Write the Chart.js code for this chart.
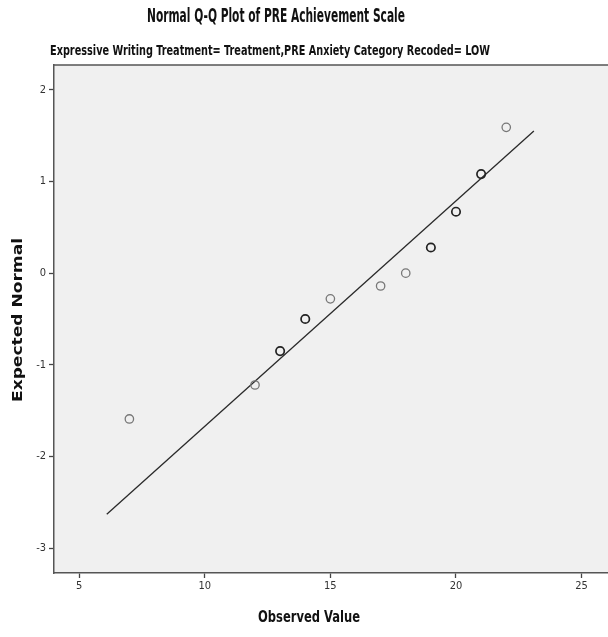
<!DOCTYPE html>
<html>
<head>
<meta charset="utf-8">
<script src="https://cdn.jsdelivr.net/npm/chart.js@4/dist/chart.umd.min.js"></script>
<style>
  html, body { margin: 0; padding: 0; background: #ffffff; }
  #wrap { width: 608px; height: 637px; position: relative; }
</style>
</head>
<body>
<div id="wrap"><canvas id="c" width="608" height="637"></canvas></div>
<script>
// ---- data ----
const observedValues = [7, 12, 13, 14, 15, 17, 18, 19, 20, 21, 22];
const expectedNormal = [-1.59, -1.22, -0.85, -0.50, -0.28, -0.14, 0.00, 0.28, 0.67, 1.08, 1.59];
const caseCounts     = [1, 1, 2, 2, 1, 1, 1, 2, 2, 2, 1];
const lineX = [6.1, 23.1];
const lineY = [-2.63, 1.55];
const xTicks = [5, 10, 15, 20, 25];
const yTicks = [-3, -2, -1, 0, 1, 2];
const titleText = 'Normal Q-Q Plot of PRE Achievement Scale';
const subtitleText = 'Expressive Writing Treatment= Treatment,PRE Anxiety Category Recoded= LOW';
const xTitle = 'Observed Value';
const yTitle = 'Expected Normal';

const narrow = '"Liberation Sans Narrow", "DejaVu Sans Condensed", "Open Sans", sans-serif';

const pointData = observedValues.map((x, i) => ({ x: x, y: expectedNormal[i] }));
const linePoints = lineX.map((x, i) => ({ x: x, y: lineY[i] }));

// draw text centred at (cx, cy), squeezed horizontally to a target width
function fitText(ctx, text, font, cx, cy, targetW, rot) {
  ctx.save();
  ctx.font = font;
  const w = ctx.measureText(text).width;
  const k = targetW / w;
  ctx.translate(cx, cy);
  if (rot) ctx.rotate(rot);
  ctx.scale(k, 1);
  ctx.textAlign = 'center';
  ctx.textBaseline = 'middle';
  ctx.fillText(text, 0, 0);
  ctx.restore();
}

const decor = {
  id: 'decor',
  beforeDraw(chart) {
    const { ctx, chartArea: a } = chart;
    ctx.save();
    ctx.fillStyle = '#f0f0f0';
    ctx.fillRect(a.left, a.top, a.right - a.left, a.bottom - a.top);
    ctx.strokeStyle = '#555';
    ctx.lineWidth = 1.5;
    ctx.beginPath();
    ctx.moveTo(a.left, a.top);
    ctx.lineTo(a.right, a.top);
    ctx.stroke();
    ctx.restore();
  },
  afterDraw(chart) {
    const { ctx } = chart;
    ctx.save();
    ctx.fillStyle = '#111';
    fitText(ctx, titleText, 'bold 19px ' + narrow, 276, 17, 258, 0);
    fitText(ctx, subtitleText, 'bold 14px ' + narrow, 270, 51, 440, 0);
    fitText(ctx, xTitle, 'bold 16px ' + narrow, 309, 618, 102, 0);
    fitText(ctx, yTitle, 'bold 14px "DejaVu Sans", Verdana, sans-serif', 18, 320, 164, -Math.PI / 2);
    ctx.restore();
  }
};

new Chart(document.getElementById('c'), {
  type: 'scatter',
  data: {
    datasets: [
      {
        label: 'Observed',
        data: pointData,
        showLine: false,
        pointStyle: 'circle',
        pointRadius: 4.2,
        pointHoverRadius: 4.2,
        backgroundColor: 'rgba(0,0,0,0)',
        borderColor: (c) => caseCounts[c.dataIndex] > 1 ? '#222' : '#777',
        borderWidth: (c) => caseCounts[c.dataIndex] > 1 ? 1.7 : 1.3,
        order: 1
      },
      {
        label: 'Line',
        data: linePoints,
        showLine: true,
        pointRadius: 0,
        borderColor: '#2a2a2a',
        borderWidth: 1.3,
        fill: false,
        order: 2
      }
    ]
  },
  options: {
    responsive: false,
    animation: false,
    events: [],
    layout: { autoPadding: false, padding: { top: 65, right: 0, left: 0, bottom: 0 } },
    plugins: {
      legend: { display: false },
      tooltip: { enabled: false },
      title: { display: false }
    },
    scales: {
      x: {
        type: 'linear',
        min: 4.0,
        max: 26.05,
        afterBuildTicks: (s) => { s.ticks = xTicks.map(v => ({ value: v })); },
        afterFit: (s) => { s.height = 64; },
        ticks: {
          color: '#333',
          font: { size: 11, family: narrow },
          padding: 2
        },
        grid: {
          drawOnChartArea: false,
          drawTicks: true,
          tickLength: 5,
          tickColor: '#444',
          tickWidth: 1.3
        },
        border: { display: true, color: '#555', width: 1.5 },
        title: { display: false }
      },
      y: {
        type: 'linear',
        min: -3.27,
        max: 2.27,
        afterBuildTicks: (s) => { s.ticks = yTicks.map(v => ({ value: v })); },
        afterFit: (s) => { s.width = 54; },
        ticks: {
          color: '#333',
          font: { size: 11, family: narrow },
          padding: 3
        },
        grid: {
          drawOnChartArea: false,
          drawTicks: true,
          tickLength: 5,
          tickColor: '#444',
          tickWidth: 1.3
        },
        border: { display: true, color: '#555', width: 1.5 },
        title: { display: false }
      }
    }
  },
  plugins: [decor]
});
</script>
</body>
</html>
